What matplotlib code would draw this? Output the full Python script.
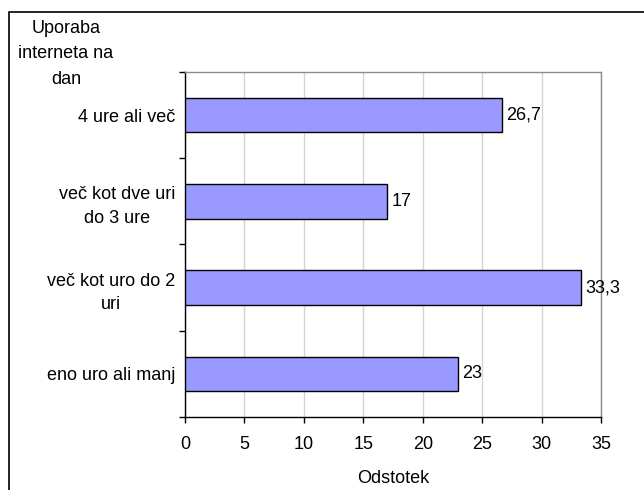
import matplotlib.pyplot as plt
from matplotlib.patches import Rectangle

plt.rcParams['font.family'] = ['Liberation Sans', 'DejaVu Sans']

# podatki: dnevna uporaba interneta (odstotek)
kategorije = ['4 ure ali več', 'več kot dve uri\ndo 3 ure', 'več kot uro do 2\nuri', 'eno uro ali manj']
odstotki = [26.7, 17, 33.3, 23]
oznake = ['26,7', '17', '33,3', '23']

fig = plt.figure(figsize=(6.44, 4.9), dpi=100)
ax = fig.add_axes([185 / 644, 1 - 417 / 490, 416 / 644, 345 / 490])

pos = list(range(len(kategorije)))
ax.barh(pos, odstotki, height=0.4, color='#9999FF', edgecolor='black', linewidth=1.0, zorder=3)

for p, v, t in zip(pos, odstotki, oznake):
    ax.annotate(t, xy=(v, p), xytext=(3, 0), textcoords='offset points',
                va='center', ha='left', fontsize=13, zorder=4)

ax.set_xlim(0, 35)
ax.set_xticks(range(0, 36, 5))
ax.set_ylim(-0.5, len(kategorije) - 0.5)
ax.invert_yaxis()

# imena kategorij na sredini, kratke črtice na mejah
ax.set_yticks(pos)
ax.set_yticklabels(kategorije, fontsize=13, multialignment='center', linespacing=1.5)
ax.set_yticks([i - 0.5 for i in range(len(kategorije) + 1)], minor=True)
ax.tick_params(axis='y', which='major', length=0, pad=7)
ax.tick_params(axis='y', which='minor', length=4, width=1, direction='out')
ax.tick_params(axis='x', length=4, width=1, labelsize=13, pad=10)

ax.grid(axis='x', color='#d4d4d4', linewidth=1, zorder=0)
ax.spines['left'].set_color('black')
ax.spines['bottom'].set_color('black')
ax.spines['top'].set_color('#8c8c8c')
ax.spines['right'].set_color('#8c8c8c')
for s in ax.spines.values():
    s.set_linewidth(1)

ax.set_xlabel('Odstotek', fontsize=13, labelpad=12)
fig.text(66 / 644, 1 - 54 / 490, 'Uporaba\ninterneta na\ndan', ha='center', va='center',
         fontsize=13, linespacing=1.65)

# okvir okoli grafa
fig.add_artist(Rectangle((9 / 644, -0.1), 1.2, 1.1 - 12 / 490, transform=fig.transFigure,
                         fill=False, edgecolor='black', linewidth=1.2))

fig.savefig('out.png', dpi=100)
